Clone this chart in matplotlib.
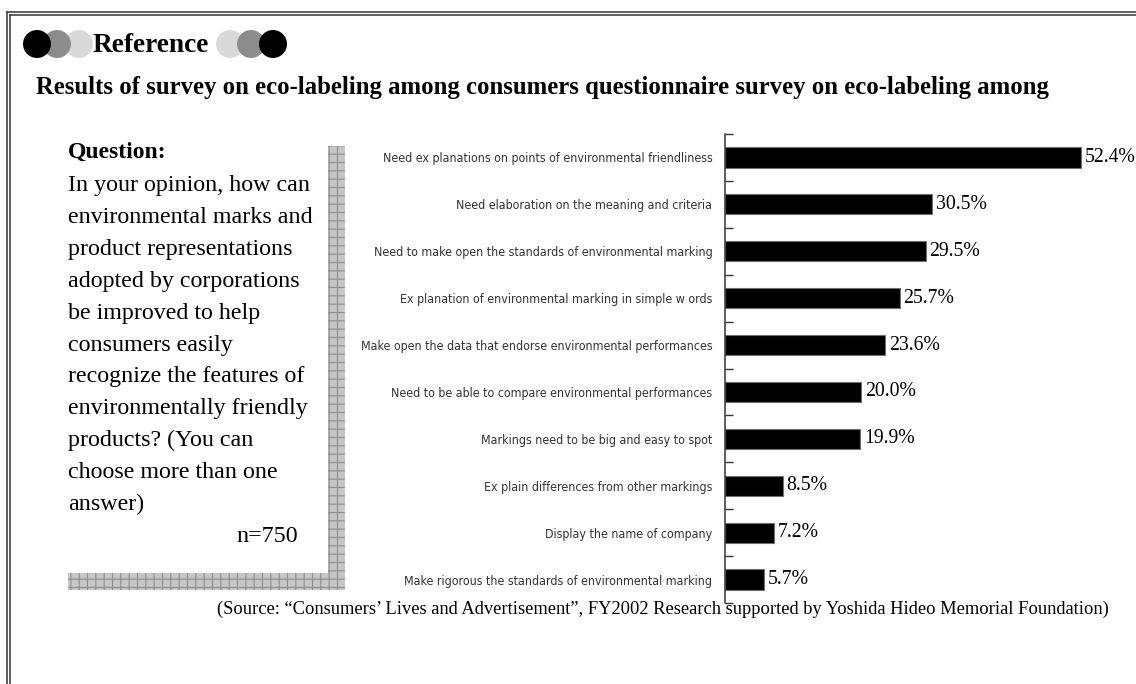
import matplotlib
matplotlib.use("Agg")
import matplotlib.pyplot as plt
from matplotlib import font_manager as fm
from matplotlib.patches import Circle, Rectangle
from matplotlib.lines import Line2D
import numpy as np

# survey answers, top to bottom
categories = [
    "Need ex planations on points of environmental friendliness",
    "Need elaboration on the meaning and criteria",
    "Need to make open the standards of environmental marking",
    "Ex planation of environmental marking in simple w ords",
    "Make open the data that endorse environmental performances",
    "Need to be able to compare environmental performances",
    "Markings need to be big and easy to spot",
    "Ex plain differences from other markings",
    "Display the name of company",
    "Make rigorous the standards of environmental marking",
]
values = [52.4, 30.5, 29.5, 25.7, 23.6, 20.0, 19.9, 8.5, 7.2, 5.7]

header = "Reference"
subtitle = "Results of survey on eco-labeling among consumers questionnaire survey on eco-labeling among"
question_title = "Question:"
question_lines = [
    "In your opinion, how can",
    "environmental marks and",
    "product representations",
    "adopted by corporations",
    "be improved to help",
    "consumers easily",
    "recognize the features of",
    "environmentally friendly",
    "products? (You can",
    "choose more than one",
    "answer)",
]
sample_size = "n=750"
source = ("(Source: \u201cConsumers\u2019 Lives and Advertisement\u201d, FY2002 Research "
          "supported by Yoshida Hideo Memorial Foundation)")

W, H = 1136, 684
SERIF = ["Liberation Serif", "DejaVu Serif"]

# narrow sans for the category labels, whatever is around
names = {f.name for f in fm.fontManager.ttflist}
cond = [f for f in fm.fontManager.ttflist
        if f.name == "DejaVu Sans" and "condensed" in str(f.stretch)]
if "Liberation Sans Narrow" in names:
    LABEL = dict(family="Liberation Sans Narrow", fontsize=10)
elif cond:
    LABEL = dict(family="DejaVu Sans", fontstretch="condensed", fontsize=8.9)
else:
    LABEL = dict(family="Liberation Sans", fontsize=9.0)

fig = plt.figure(figsize=(W / 100, H / 100), dpi=100)
tr = fig.dpi_scale_trans


def P(x, y):
    # pixel position (top-left origin) -> inches
    return x / 100, (H - y) / 100


# double frame (top and left only)
for off in (0, 3):
    x0, y0 = P(7 + off, 12 + off)
    x1, _ = P(W, 0)
    _, y1 = P(0, H)
    fig.add_artist(Line2D([x0, x1], [y0, y0], transform=tr, color="#333333", lw=1.1))
    fig.add_artist(Line2D([x0, x0], [y0, y1], transform=tr, color="#333333", lw=1.1))

# decorative circles round the header
r = 14 / 100
for cx, col in [(79, "#d9d9d9"), (57, "#8c8c8c"), (37, "#000000"),
                (230, "#d9d9d9"), (251, "#8c8c8c"), (273, "#000000")]:
    fig.add_artist(Circle(P(cx, 44), r, transform=tr, color=col, lw=0))

fig.text(*P(93, 52), header, transform=tr, fontsize=19.7, fontweight="bold",
         family=SERIF, va="baseline")
fig.text(*P(36, 94), subtitle, transform=tr, fontsize=17.8, fontweight="bold",
         family=SERIF, va="baseline")

# question box shadow
plt.rcParams["hatch.linewidth"] = 0.8
for (x, y, w, h) in [(328, 146, 17, 444), (68, 573, 277, 17)]:
    x0, y0 = P(x, y + h)
    fig.add_artist(Rectangle((x0, y0), w / 100, h / 100, transform=tr,
                             facecolor="#c6c6c6", edgecolor="#8e8e8e",
                             hatch="++", lw=0))

fig.text(*P(68, 158), question_title, transform=tr, fontsize=17, fontweight="bold",
         family=SERIF, va="baseline")
for i, line in enumerate(question_lines):
    fig.text(*P(68, 191 + i * 31.9), line, transform=tr, fontsize=17.3,
             family=SERIF, va="baseline")
fig.text(*P(298, 542), sample_size, transform=tr, fontsize=17.3, family=SERIF,
         va="baseline", ha="right")

# bar chart
ax = fig.add_axes([725 / W, (H - 603) / H, 408 / W, (603 - 134) / H])
y = np.arange(len(categories))
ax.barh(y, values, height=0.43, color="black", edgecolor="#707070", lw=0.8)
for yi, v in zip(y, values):
    ax.text(v + 0.55, yi, f"{v:.1f}%", va="center", ha="left", fontsize=14.2,
            family=SERIF, clip_on=False)
ax.set_xlim(0, 60)
ax.set_ylim(len(categories) - 0.5, -0.5)
ax.set_yticks(y)
ax.set_yticklabels(categories, color="#333333", **LABEL)
ax.set_yticks(np.arange(len(categories) + 1) - 0.5, minor=True)
ax.tick_params(axis="y", which="major", length=0, pad=9)
ax.tick_params(axis="y", which="minor", direction="in", length=6, width=1, color="#333333")
ax.set_xticks([])
for s in ("top", "right", "bottom"):
    ax.spines[s].set_visible(False)
ax.spines["left"].set_color("#333333")
ax.spines["left"].set_linewidth(1.1)
ax.patch.set_alpha(0)

fig.text(*P(663, 614), source, transform=tr, fontsize=13.3, family=SERIF,
         va="baseline", ha="center")

fig.savefig("out.png", dpi=100)
